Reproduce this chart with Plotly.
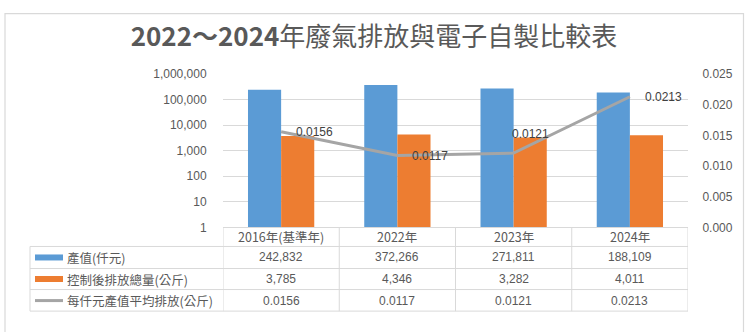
import plotly.graph_objects as go

# ---- data ----
categories = ["2016年(基準年)", "2022年", "2023年", "2024年"]
output_value = [242832, 372266, 271811, 188109]          # 產值(仟元)
emission_total = [3785, 4346, 3282, 4011]                # 控制後排放總量(公斤)
emission_per = [0.0156, 0.0117, 0.0121, 0.0213]          # 每仟元產值平均排放(公斤)
series_names = ["產值(仟元)", "控制後排放總量(公斤)", "每仟元產值平均排放(公斤)"]
left_ticks = [1, 10, 100, 1000, 10000, 100000, 1000000]
right_ticks = [0, 0.005, 0.010, 0.015, 0.020, 0.025]
title_num = "2022～2024"
title_txt = "年廢氣排放與電子自製比較表"

W, H = 751, 332
BLUE, ORANGE, GREY = "#5B9BD5", "#ED7D31", "#A5A5A5"
TXT = "#595959"
GRID = "#D9D9D9"
NUMFONT = "Liberation Sans"
CJK = "Noto Sans CJK TC"


def px(x):
    return x / W


def py(y):
    return 1 - y / H


fig = go.Figure()
fig.add_trace(go.Bar(x=categories, y=output_value, name=series_names[0],
                     marker=dict(color=BLUE, line=dict(width=0))))
fig.add_trace(go.Bar(x=categories, y=emission_total, name=series_names[1],
                     marker=dict(color=ORANGE, line=dict(width=0))))
fig.add_trace(go.Scatter(x=categories, y=emission_per, name=series_names[2],
                         mode="lines", yaxis="y2",
                         line=dict(color=GREY, width=3)))

plot_l, plot_r, plot_t, plot_b = 223, 688, 70, 230

fig.update_layout(
    width=W, height=H,
    margin=dict(l=0, r=0, t=0, b=0),
    paper_bgcolor="white", plot_bgcolor="white",
    showlegend=False,
    barmode="group", bargap=0.43, bargroupgap=0,
    title=dict(text=f"<b>{title_num}</b>{title_txt}",
               x=px(374), xanchor="center", xref="paper",
               y=py(37), yanchor="middle", yref="container",
               font=dict(family=CJK, size=26, color=TXT)),
    xaxis=dict(domain=[px(plot_l), px(plot_r)], range=[-0.5, 3.5],
               showticklabels=False, showgrid=False, zeroline=False,
               showline=True, linecolor=GRID, linewidth=1, ticks=""),
    yaxis=dict(domain=[py(plot_b), py(plot_t)], type="log", range=[0, 6],
               tickvals=left_ticks, ticktext=[f"{t:,}" for t in left_ticks],
               showgrid=True, gridcolor=GRID, gridwidth=1,
               zeroline=False, showline=False,
               ticks="outside", ticklen=13, tickcolor="rgba(0,0,0,0)",
               tickfont=dict(family=NUMFONT, size=12, color=TXT)),
    yaxis2=dict(overlaying="y", side="right", range=[0, 0.025],
                tickvals=right_ticks, ticktext=[f"{t:.3f}" for t in right_ticks],
                showgrid=False, zeroline=False, showline=False,
                ticks="outside", ticklen=11, tickcolor="rgba(0,0,0,0)",
                tickfont=dict(family=NUMFONT, size=12, color=TXT)),
)

shapes = []
# outer chart border (left, top, right)
shapes.append(dict(type="path", xref="paper", yref="paper",
                   path=f"M {px(5)},{py(340)} L {px(5)},{py(7)} L {px(743.5)},{py(7)} L {px(743.5)},{py(340)}",
                   line=dict(color=GRID, width=1.2)))

# table grid
row_y = [250, 273, 295, 317.5]
for yy in row_y:
    shapes.append(dict(type="line", xref="paper", yref="paper",
                       x0=px(30), x1=px(plot_r), y0=py(yy), y1=py(yy),
                       line=dict(color=GRID, width=1)))
shapes.append(dict(type="line", xref="paper", yref="paper",
                   x0=px(30), x1=px(30), y0=py(250), y1=py(317.5),
                   line=dict(color=GRID, width=1)))
n = len(categories)
for k in range(n + 1):
    shapes.append(dict(type="line", xref="x", yref="paper",
                       x0=k - 0.5, x1=k - 0.5, y0=py(plot_b), y1=py(317.5),
                       line=dict(color=GRID, width=1)))

# legend keys in the table
row_centers = [261.5, 284, 306.5]
key_colors = [BLUE, ORANGE, GREY]
key_widths = [6, 6, 3]
for yc, c, w in zip(row_centers, key_colors, key_widths):
    shapes.append(dict(type="line", xref="paper", yref="paper",
                       x0=px(35), x1=px(63), y0=py(yc), y1=py(yc),
                       line=dict(color=c, width=w)))

annotations = []
for name, yc in zip(series_names, row_centers):
    annotations.append(dict(text=name, xref="paper", yref="paper",
                            x=px(65), y=py(yc), xanchor="left", yanchor="middle",
                            showarrow=False,
                            font=dict(family=CJK, size=12.5, color=TXT)))
for i, cat in enumerate(categories):
    annotations.append(dict(text=cat, xref="x", yref="paper", x=i, y=py(240),
                            xanchor="center", yanchor="middle", showarrow=False,
                            font=dict(family=CJK, size=12.5, color=TXT)))
    vals = [f"{output_value[i]:,}", f"{emission_total[i]:,}", f"{emission_per[i]:.4f}"]
    for v, yc in zip(vals, row_centers):
        annotations.append(dict(text=v, xref="x", yref="paper", x=i, y=py(yc),
                                xanchor="center", yanchor="middle", showarrow=False,
                                font=dict(family=NUMFONT, size=12, color=TXT)))

# data labels on the line
label_shift = [(13, 0), (13, 0), (-4, 19), (13, 0)]
for i, (cat, v) in enumerate(zip(categories, emission_per)):
    dx, dy = label_shift[i]
    annotations.append(dict(text=f"{v:.4f}", xref="x", yref="y2", x=cat, y=v,
                            xanchor="left", yanchor="middle", xshift=dx, yshift=dy,
                            showarrow=False,
                            font=dict(family=NUMFONT, size=12, color="#404040")))

fig.update_layout(shapes=shapes, annotations=annotations)
fig.write_html("out.html")
